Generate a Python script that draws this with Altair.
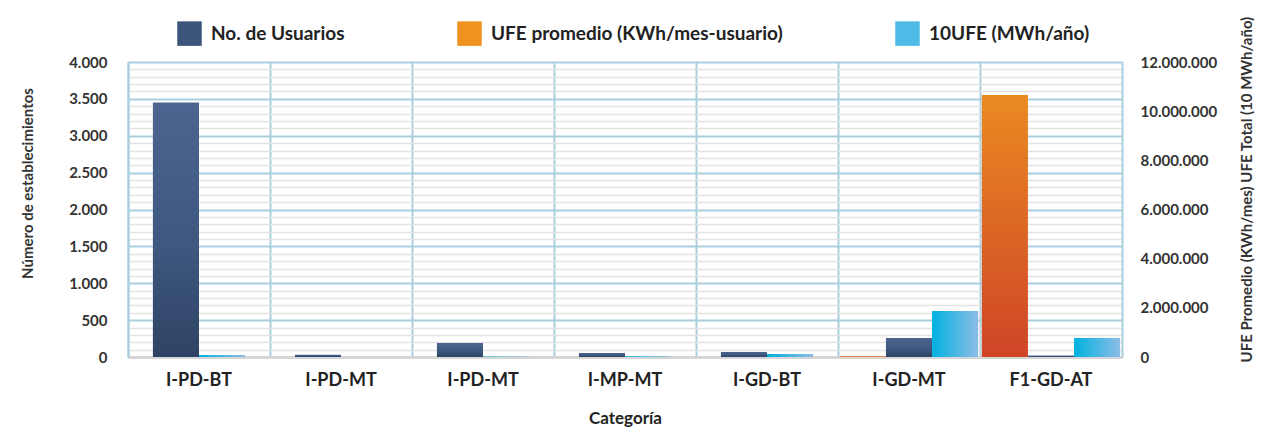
import json
import altair as alt
import pandas as pd

# ---------------- data ----------------
categorias = ["I-PD-BT", "I-PD-MT", "I-PD-MT", "I-MP-MT", "I-GD-BT", "I-GD-MT", "F1-GD-AT"]
usuarios = [3450, 30, 190, 55, 68, 258, 20]                      # left axis
ufe_promedio = [None, None, None, None, None, 30000, 10660000]   # right axis
ufe_total10 = [80000, 4000, 20000, 35000, 120000, 1870000, 773000]  # right axis

serie_names = ["No. de Usuarios", "UFE promedio (KWh/mes-usuario)", "10UFE (MWh/año)"]
legend_colors = ["#3b557b", "#f0921f", "#4dbbe6"]

rows = []
for i, cat in enumerate(categorias):
    grupo = 3 if ufe_promedio[i] is not None else 2
    rows.append({"idx": i, "serie": "usr", "valor": usuarios[i], "grupo": grupo})
    if ufe_promedio[i] is not None:
        rows.append({"idx": i, "serie": "prom", "valor": ufe_promedio[i], "grupo": grupo})
    rows.append({"idx": i, "serie": "tot", "valor": ufe_total10[i], "grupo": grupo})
df = pd.DataFrame(rows)

FONT = "Lato"
TXT = "#333333"
GRID_BLUE = "#a9cfdf"
GRID_GRAY = "#e3e3e3"

label_expr = json.dumps(categorias) + "[datum.value]"

x_enc = alt.X(
    "idx:O",
    scale=alt.Scale(paddingInner=0, paddingOuter=0),
    axis=alt.Axis(
        title="Categoría", labelExpr=label_expr, labelAngle=0,
        labelFont=FONT, labelFontSize=18, labelFontWeight="bold", labelColor="#222222",
        labelPadding=14, titleFont=FONT, titleFontSize=17, titleFontWeight="bold",
        titleColor="#222222", titlePadding=21,
        grid=True, bandPosition=0, gridColor=GRID_BLUE, gridWidth=2,
        ticks=False, domainColor="#d6d6d6", domainWidth=3,
    ),
)

y_left = alt.Y(
    "valor:Q",
    scale=alt.Scale(domain=[0, 4000], nice=False),
    axis=alt.Axis(
        title="Número de establecimientos",
        values=list(range(0, 4001, 100)),
        labelExpr="datum.value % 500 === 0 ? format(datum.value, ',') : ''",
        labelOverlap=False, labelFont=FONT, labelFontSize=15, labelFontWeight="bold",
        labelColor=TXT, labelPadding=21, ticks=False,
        grid=True,
        gridColor={"condition": {"test": "datum.value % 500 === 0", "value": GRID_BLUE},
                   "value": GRID_GRAY},
        gridWidth={"condition": {"test": "datum.value % 500 === 0", "value": 2},
                   "value": 1.5},
        domainColor=GRID_BLUE, domainWidth=2,
        titleFont=FONT, titleFontSize=15, titleFontWeight="bold", titleColor=TXT,
        titleAngle=270, titleX=-101, titleY=121, titleAlign="center",
        titleBaseline="middle",
    ),
)

y_right = alt.Y(
    "valor:Q",
    scale=alt.Scale(domain=[0, 12000000], nice=False),
    axis=alt.Axis(
        title="UFE Promedio (KWh/mes) UFE Total (10 MWh/año)",
        orient="right",
        values=list(range(0, 12000001, 2000000)),
        labelExpr="format(datum.value, ',')",
        labelFont=FONT, labelFontSize=15, labelFontWeight="bold",
        labelColor=TXT, labelPadding=18, ticks=False, grid=False,
        domainColor=GRID_BLUE, domainWidth=2,
        titleFont=FONT, titleFontSize=15, titleFontWeight="bold", titleColor=TXT,
        titleAngle=270, titleX=124, titleY=300, titleAlign="left",
        titleBaseline="middle", titleLimit=1000,
    ),
)

blue_grad = {"gradient": "linear", "x1": 0, "y1": 0, "x2": 0, "y2": 1,
             "stops": [{"offset": 0, "color": "#4b6590"}, {"offset": 0.55, "color": "#3f5880"},
                       {"offset": 1, "color": "#2e4364"}]}
orange_grad = {"gradient": "linear", "x1": 0, "y1": 0, "x2": 0, "y2": 1,
               "stops": [{"offset": 0, "color": "#ea8a22"}, {"offset": 1, "color": "#cf4527"}]}
cyan_grad = {"gradient": "linear", "x1": 0, "y1": 0, "x2": 1, "y2": 0,
             "stops": [{"offset": 0, "color": "#00b1e0"}, {"offset": 1, "color": "#8dbce5"}]}

off2 = alt.XOffset("serie:N", scale=alt.Scale(domain=["usr", "tot"], paddingInner=0, paddingOuter=0.54))
off3 = alt.XOffset("serie:N", scale=alt.Scale(domain=["prom", "usr", "tot"], paddingInner=0, paddingOuter=0.04))

base = alt.Chart(df)

def bars(serie, grupo, fill, y, off):
    return base.transform_filter(
        (alt.datum.serie == serie) & (alt.datum.grupo == grupo)
    ).mark_bar(fill=fill, stroke=None).encode(x=x_enc, xOffset=off, y=y)

left = alt.layer(
    bars("usr", 2, blue_grad, y_left, off2),
    bars("usr", 3, blue_grad, y_left, off3),
).resolve_scale(xOffset="independent")

right = alt.layer(
    bars("tot", 2, cyan_grad, y_right, off2),
    bars("prom", 3, orange_grad, y_right, off3),
    bars("tot", 3, cyan_grad, y_right, off3),
).resolve_scale(xOffset="independent")

legend_df = pd.DataFrame({"serie": serie_names})
legend_layer = alt.Chart(legend_df).mark_square(opacity=0).encode(
    color=alt.Color(
        "serie:N",
        scale=alt.Scale(domain=serie_names, range=legend_colors),
        legend=alt.Legend(
            title=None, orient="none", direction="horizontal",
            legendX=49, legendY=-41, symbolType="square", symbolSize=600,
            symbolOpacity=1, symbolStrokeWidth=0, labelFont=FONT, labelFontSize=19,
            labelFontWeight="bold", labelColor="#222222", labelOffset=9,
            labelLimit=500, columnPadding=112,
        ),
    )
)

chart = alt.layer(left, right, legend_layer).resolve_scale(
    y="independent", xOffset="independent"
).properties(
    width=994, height=295,
    autosize=alt.AutoSizeParams(type="none"),
    padding={"left": 120, "top": 54, "right": 134, "bottom": 71},
).configure_view(stroke=None).configure(
    locale={"number": {"decimal": ",", "thousands": ".", "grouping": [3], "currency": ["$", ""]}}
)

chart.save("out.html", embed_options={"renderer": "svg", "actions": False})
